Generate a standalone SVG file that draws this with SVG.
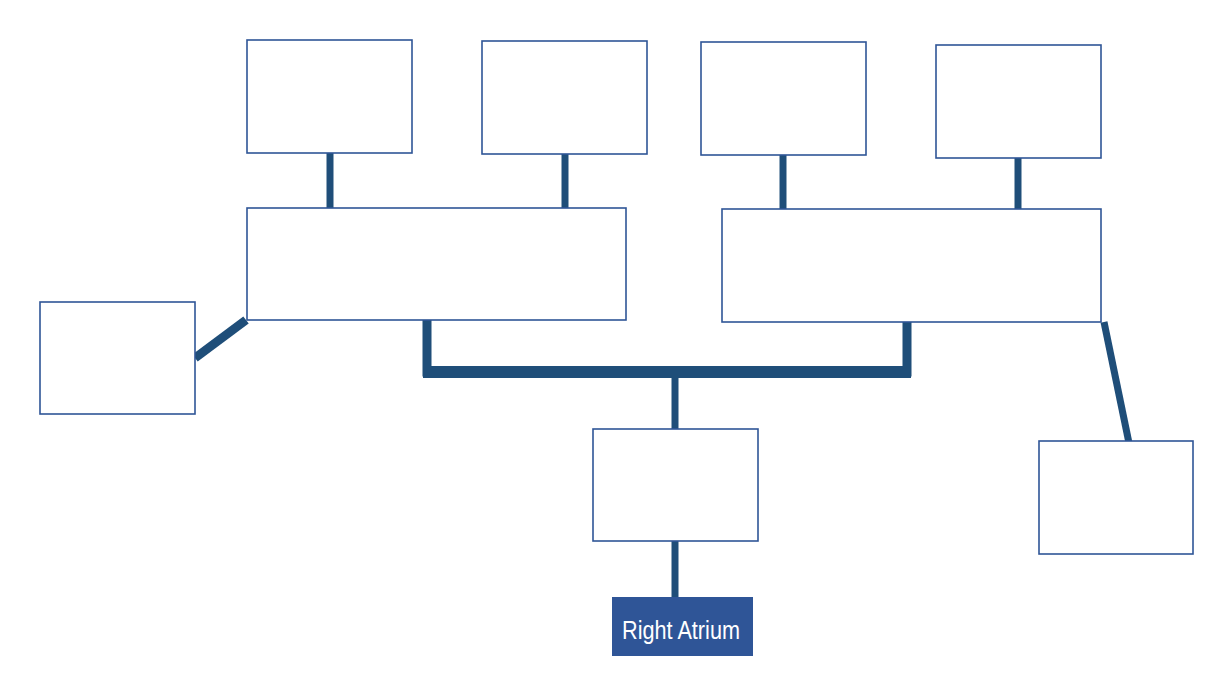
<svg xmlns="http://www.w3.org/2000/svg" width="1224" height="693" viewBox="0 0 1224 693">
<style>
.box{fill:#fff;stroke:#2F5597;stroke-width:1.6}
.c{stroke:#1F4E79;fill:none;stroke-linecap:butt}
.lbl{font-family:"Liberation Sans",Arial,sans-serif;font-size:25px;fill:#fff}
</style>
<rect width="1224" height="693" fill="#fff"/>
<g id="connectors">
<line class="c" x1="330" y1="153" x2="330" y2="208" stroke-width="7"/>
<line class="c" x1="565" y1="154" x2="565" y2="210" stroke-width="7"/>
<line class="c" x1="783" y1="155" x2="783" y2="212" stroke-width="7"/>
<line class="c" x1="1018" y1="158" x2="1018" y2="214" stroke-width="7"/>
<polyline class="c" points="427,320 427,372 907,372 907,322" stroke-width="9" stroke-linejoin="miter"/>
<line class="c" x1="423" y1="372" x2="911" y2="372" stroke-width="12"/>
<line class="c" x1="675" y1="378" x2="675" y2="429" stroke-width="7"/>
<line class="c" x1="675" y1="541" x2="675" y2="597" stroke-width="7"/>
<line class="c" x1="246" y1="320" x2="195" y2="358" stroke-width="9"/>
<line class="c" x1="1104" y1="322" x2="1129" y2="443" stroke-width="7"/>
</g>
<g id="n1"><rect class="box" x="247" y="40" width="165" height="113"/></g>
<g id="n2"><rect class="box" x="482" y="41" width="165" height="113"/></g>
<g id="n3"><rect class="box" x="701" y="42" width="165" height="113"/></g>
<g id="n4"><rect class="box" x="936" y="45" width="165" height="113"/></g>
<g id="n5"><rect class="box" x="247" y="208" width="379" height="112"/></g>
<g id="n6"><rect class="box" x="722" y="209" width="379" height="113"/></g>
<g id="n7"><rect class="box" x="40" y="302" width="155" height="112"/></g>
<g id="n8"><rect class="box" x="593" y="429" width="165" height="112"/></g>
<g id="n9"><rect class="box" x="1039" y="441" width="154" height="113"/></g>
<g id="n10"><rect x="612" y="597" width="141" height="59" fill="#2F5597"/>
<text class="lbl" x="622" y="639" textLength="118" lengthAdjust="spacingAndGlyphs">Right Atrium</text></g>
</svg>
